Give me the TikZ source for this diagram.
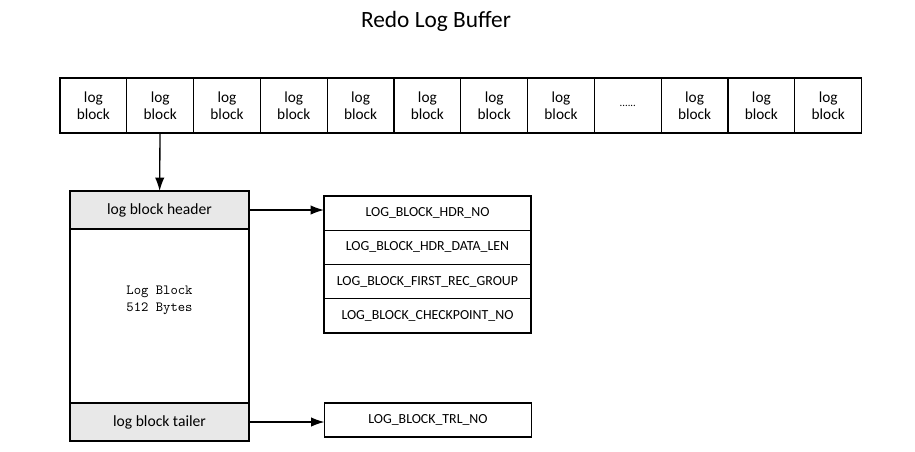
\documentclass[tikz,border=0pt]{standalone}
\usepackage{fontspec}
\setmainfont{Carlito}
\usetikzlibrary{arrows.meta, positioning}

\begin{document}
\begin{tikzpicture}
  [x=0.75pt, y=-0.75pt,
   cell/.style={draw, line width=1pt, inner sep=0pt, outer sep=0pt, align=center,
     font=\fontsize{11.5}{12.5}\selectfont, minimum width=50.1pt, minimum height=41.25pt},
   part/.style={draw, line width=1pt, inner sep=0pt, outer sep=0pt,
     minimum width=134.25pt, font=\fontsize{11.7}{13}\selectfont},
   field/.style={draw, line width=1pt, inner sep=0pt, outer sep=0pt,
     minimum width=155.25pt, minimum height=25.7pt, font=\fontsize{10.4}{11}\selectfont},
   link/.style={-{Latex[length=10pt, width=7pt]}, line width=1pt}]
  \useasboundingbox (0,0) rectangle (915,451);
  \node (title) at (436,21) {\fontsize{17.5}{19}\selectfont Redo Log Buffer};
  % the buffer row
  \foreach \i in {1,...,12}{
    \ifnum\i=9 \def\txt{\fontsize{8}{8}\selectfont......}\else\def\txt{log\\block}\fi
    \node (blk\i) at ({60+66.8*(\i-0.5)},105.5) [cell] {\txt};
  }
  % one log block
  \node (header) at (159.5,210) [part, fill=gray!18, minimum height=28.5pt] {log block header};
  \node (body) [part, below=0pt of header, minimum height=130.5pt] {};
  \node (size) at ([yshift=12pt]body.center) [align=center,
    font=\ttfamily\fontsize{10.5}{12.75}\selectfont] {Log Block\\512 Bytes};
  \node (tailer) [part, below=0pt of body, fill=gray!18, minimum height=28.5pt] {log block tailer};
  % header fields
  \node (hdrno) at (427.5,213.1) [field] {LOG\_BLOCK\_HDR\_NO};
  \node (datalen) [field, below=0pt of hdrno] {LOG\_BLOCK\_HDR\_DATA\_LEN};
  \node (recgroup) [field, below=0pt of datalen] {LOG\_BLOCK\_FIRST\_REC\_GROUP};
  \node (chkno) [field, below=0pt of recgroup] {LOG\_BLOCK\_CHECKPOINT\_NO};
  \node (trlno) at (428,420) [field, minimum height=25.5pt] {LOG\_BLOCK\_TRL\_NO};
  \draw [link] (blk2) to (header);
  \draw [link] (header) to (header -| hdrno.west);
  \draw [link] (tailer) to (tailer -| trlno.west);
\end{tikzpicture}
\end{document}
